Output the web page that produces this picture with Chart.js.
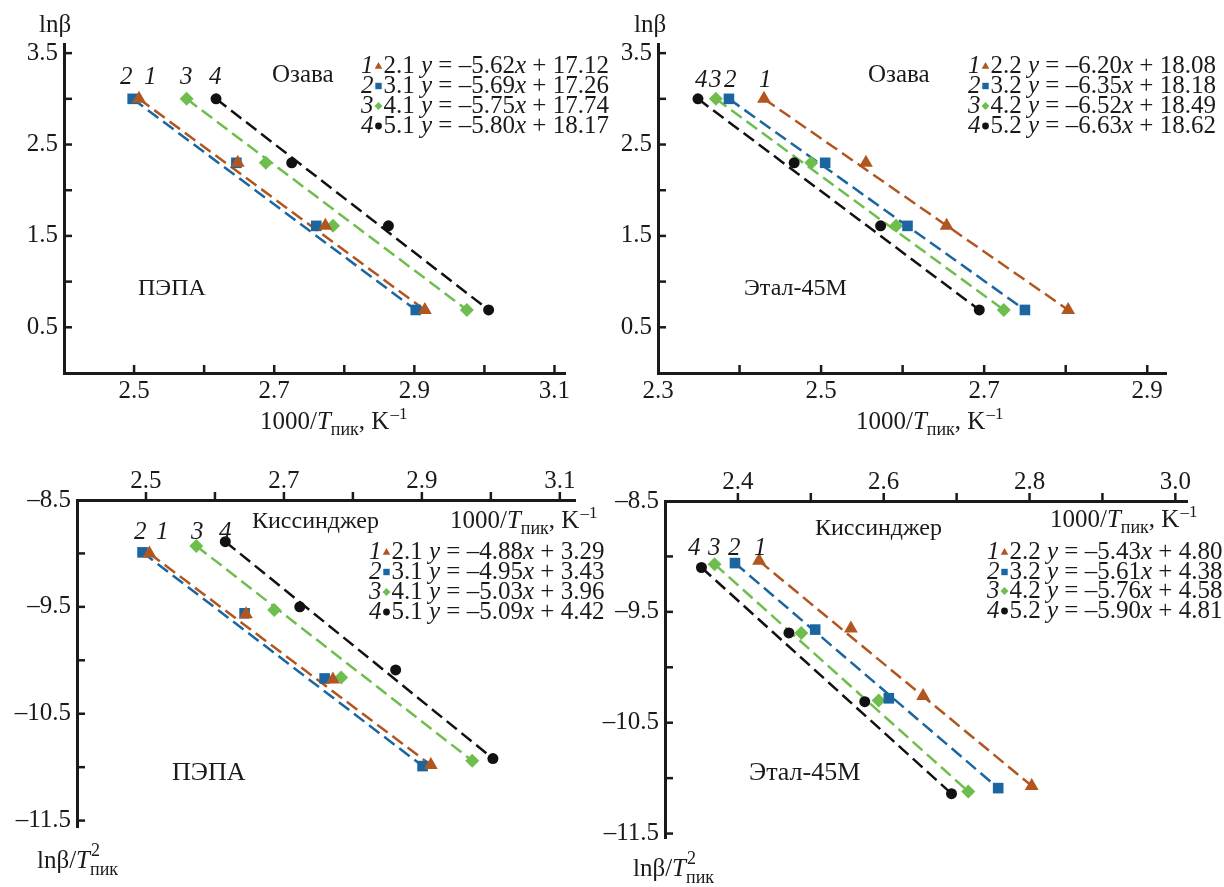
<!DOCTYPE html>
<html><head><meta charset="utf-8">
<script src="https://cdn.jsdelivr.net/npm/chart.js@4.4.1/dist/chart.umd.min.js"></script>
<style>
html,body{margin:0;padding:0;background:#fff;}
#wrap{position:relative;width:1224px;height:887px;overflow:hidden;background:#fff;}
canvas{position:absolute;left:0;top:0;}
</style>
</head><body><div id="wrap"></div>
<script>
// ---------- series meta ----------
const seriesNames  = ['1', '2', '3', '4'];
const seriesColors = ['#b1561f', '#1b66a0', '#6ebe4e', '#111111'];
const seriesStyles = ['triangle', 'rect', 'rectRot', 'circle'];

// ---------- Ozawa, PEPA ----------
const lnBeta = [3.00, 2.30, 1.61, 0.69];
const ozawaPepaX = [
  [2.507, 2.648, 2.773, 2.915],
  [2.498, 2.646, 2.760, 2.902],
  [2.575, 2.688, 2.784, 2.975],
  [2.617, 2.725, 2.863, 3.006]
];
const ozawaPepaCodes = ['2.1', '3.1', '4.1', '5.1'];
const ozawaPepaSlopes = [-5.62, -5.69, -5.75, -5.80];
const ozawaPepaIntercepts = [17.12, 17.26, 17.74, 18.17];

// ---------- Ozawa, Etal-45M ----------
const ozawaEtalX = [
  [2.430, 2.555, 2.654, 2.803],
  [2.387, 2.505, 2.606, 2.750],
  [2.371, 2.488, 2.592, 2.724],
  [2.349, 2.467, 2.573, 2.694]
];
const ozawaEtalCodes = ['2.2', '3.2', '4.2', '5.2'];
const ozawaEtalSlopes = [-6.20, -6.35, -6.52, -6.63];
const ozawaEtalIntercepts = [18.08, 18.18, 18.49, 18.62];

// ---------- Kissinger, PEPA ----------
const kisPepaX = [
  [2.505, 2.645, 2.771, 2.913],
  [2.495, 2.643, 2.759, 2.901],
  [2.573, 2.686, 2.783, 2.973],
  [2.615, 2.723, 2.862, 3.003]
];
const kisPepaY = [
  [-9.00, -9.57, -10.18, -10.98],
  [-8.99, -9.56, -10.17, -10.99],
  [-8.93, -9.53, -10.16, -10.94],
  [-8.89, -9.50, -10.09, -10.92]
];
const kisPepaCodes = ['2.1', '3.1', '4.1', '5.1'];
const kisPepaSlopes = [-4.88, -4.95, -5.03, -5.09];
const kisPepaIntercepts = [3.29, 3.43, 3.96, 4.42];

// ---------- Kissinger, Etal-45M ----------
const kisEtalX = [
  [2.429, 2.555, 2.654, 2.803],
  [2.396, 2.506, 2.607, 2.757],
  [2.368, 2.487, 2.593, 2.716],
  [2.350, 2.470, 2.574, 2.693]
];
const kisEtalY = [
  [-9.04, -9.65, -10.26, -11.07],
  [-9.06, -9.66, -10.28, -11.09],
  [-9.07, -9.69, -10.30, -11.12],
  [-9.10, -9.69, -10.31, -11.14]
];
const kisEtalCodes = ['2.2', '3.2', '4.2', '5.2'];
const kisEtalSlopes = [-5.43, -5.61, -5.76, -5.90];
const kisEtalIntercepts = [4.80, 4.38, 4.58, 4.81];

// ---------- tick labels ----------
const ozawaYTickLabels   = [0.5, 1.5, 2.5, 3.5];
const ozawaPepaXTickLabels = [2.5, 2.7, 2.9, 3.1];
const ozawaEtalXTickLabels = [2.3, 2.5, 2.7, 2.9];
const kisYTickLabels     = [-8.5, -9.5, -10.5, -11.5];
const kisPepaXTickLabels = [2.5, 2.7, 2.9, 3.1];
const kisEtalXTickLabels = [2.4, 2.6, 2.8, 3.0];

// ---------- helpers ----------
const FONT = '"Liberation Serif", "Times New Roman", serif';
const TXT = '#1a1a1a';
const AXIS = '#1a1a1a';
const XAXIS_H = 40;

function fmt(v) {
  const s = Math.abs(v).toFixed(1);
  return v < 0 ? '\u2013' + s : s;
}
function has(list, v) { return list.some(l => Math.abs(l - v) < 1e-6); }

function put(ctx, t, x, y, size, italic, dy) {
  ctx.font = (italic ? 'italic ' : '') + size + 'px ' + FONT;
  ctx.fillText(t, x, y + (dy || 0));
  return x + ctx.measureText(t).width;
}

function marker(ctx, style, color, x, y, r) {
  ctx.save();
  ctx.fillStyle = color;
  ctx.beginPath();
  if (style === 'triangle') {
    ctx.moveTo(x, y - r); ctx.lineTo(x + r * 0.95, y + r * 0.7); ctx.lineTo(x - r * 0.95, y + r * 0.7);
  } else if (style === 'rect') {
    ctx.rect(x - r * 0.8, y - r * 0.8, r * 1.6, r * 1.6);
  } else if (style === 'rectRot') {
    ctx.moveTo(x, y - r); ctx.lineTo(x + r, y); ctx.lineTo(x, y + r); ctx.lineTo(x - r, y);
  } else {
    ctx.arc(x, y, r * 0.85, 0, Math.PI * 2);
  }
  ctx.closePath();
  ctx.fill();
  ctx.restore();
}

function legend(ctx, x, baselines, codes, slopes, intercepts, fs) {
  for (let i = 0; i < 4; i++) {
    const y = baselines[i];
    let cx = put(ctx, seriesNames[i], x, y, fs, true);
    marker(ctx, seriesStyles[i], seriesColors[i], cx + 5, y - 7, 4);
    cx += 10;
    cx = put(ctx, codes[i] + ' ', cx, y, fs, false);
    cx = put(ctx, 'y', cx, y, fs, true);
    cx = put(ctx, ' = \u2013' + Math.abs(slopes[i]).toFixed(2), cx, y, fs, false);
    cx = put(ctx, 'x', cx, y, fs, true);
    put(ctx, ' + ' + intercepts[i].toFixed(2), cx, y, fs, false);
  }
}

function xTitle(ctx, x, y) {
  let cx = put(ctx, '1000/', x, y, 25, false);
  cx = put(ctx, 'T', cx, y, 25, true);
  cx = put(ctx, '\u043f\u0438\u043a', cx, y, 18, false, 6);
  cx = put(ctx, ', K', cx, y, 25, false);
  put(ctx, '\u20131', cx + 1, y, 17, false, -10);
}

function yTitleKis(ctx, x, y) {
  let cx = put(ctx, 'ln\u03b2/', x, y, 25, false);
  cx = put(ctx, 'T', cx, y, 25, true);
  put(ctx, '2', cx + 1, y, 18, false, -12);
  put(ctx, '\u043f\u0438\u043a', cx, y, 18, false, 7);
}

function makePanel(p) {
  const c = document.createElement('canvas');
  c.width = 1224; c.height = 887;
  document.getElementById('wrap').appendChild(c);
  const radii = [8, 7.5, 7, 5.5];
  const datasets = [];
  p.xs.forEach((xs, i) => {
    const ys = p.ys[i];
    const pts = xs.map((x, k) => ({ x: x, y: ys[k] }));
    datasets.push({
      type: 'line', data: [pts[0], pts[pts.length - 1]],
      borderColor: seriesColors[i], borderWidth: 2.5, borderDash: [13, 6],
      pointRadius: 0, fill: false, order: 2
    });
    datasets.push({
      type: 'scatter', data: pts, pointStyle: seriesStyles[i], pointRadius: radii[i],
      backgroundColor: seriesColors[i], borderColor: seriesColors[i], borderWidth: 0, order: 1
    });
  });
  const tickFont = { family: FONT, size: 25 };
  const yW = p.area.l - 2;
  const pad = {
    left: 2,
    right: 1224 - p.area.r,
    top: p.xPos === 'top' ? p.area.t - XAXIS_H : p.area.t,
    bottom: p.xPos === 'bottom' ? 887 - p.area.b - XAXIS_H : 887 - p.area.b
  };
  const deco = {
    id: 'deco',
    afterDraw(chart) {
      const ctx = chart.ctx;
      const xs = chart.scales.x, ys = chart.scales.y;
      const a = chart.chartArea;
      ctx.save();
      ctx.strokeStyle = AXIS;
      ctx.lineWidth = 2.5;
      xs.ticks.forEach(t => {
        if (Math.abs(t.value - xs.min) < 1e-6) return;
        const px = xs.getPixelForValue(t.value);
        ctx.beginPath();
        if (p.xPos === 'bottom') { ctx.moveTo(px, a.bottom); ctx.lineTo(px, a.bottom - 8); }
        else { ctx.moveTo(px, a.top); ctx.lineTo(px, a.top - 8); }
        ctx.stroke();
      });
      ys.ticks.forEach(t => {
        if (p.xPos === 'bottom' && Math.abs(t.value - ys.min) < 1e-6) return;
        if (p.xPos === 'top' && Math.abs(t.value - ys.max) < 1e-6) return;
        const py = ys.getPixelForValue(t.value);
        ctx.beginPath(); ctx.moveTo(a.left, py); ctx.lineTo(a.left + 8, py); ctx.stroke();
      });
      ctx.fillStyle = TXT;
      ctx.textBaseline = 'alphabetic';
      ctx.textAlign = 'left';
      p.texts(ctx);
      ctx.restore();
    }
  };
  new Chart(c, {
    type: 'scatter',
    data: { datasets: datasets },
    options: {
      responsive: false, animation: false, devicePixelRatio: 1, events: [],
      layout: { autoPadding: false, padding: pad },
      plugins: { legend: { display: false }, tooltip: { enabled: false } },
      scales: {
        x: {
          type: 'linear', position: p.xPos, min: p.xMin, max: p.xMax,
          afterFit: s => { s.height = XAXIS_H; },
          grid: { display: false, drawTicks: false },
          border: { display: true, color: AXIS, width: 3 },
          ticks: {
            stepSize: 0.1, autoSkip: false, includeBounds: false, maxRotation: 0, minRotation: 0,
            padding: p.xPos === 'bottom' ? 3 : 4, color: TXT, font: tickFont,
            callback: v => has(p.xLabels, v) ? fmt(v) : ''
          }
        },
        y: {
          type: 'linear', position: 'left', min: p.yMin, max: p.yMax,
          afterFit: s => { s.width = yW; },
          grid: { display: false, drawTicks: false },
          border: { display: true, color: AXIS, width: 3 },
          ticks: {
            stepSize: 0.5, autoSkip: false, includeBounds: false, padding: 6, color: TXT, font: tickFont,
            callback: v => has(p.yLabels, v) ? fmt(v) : ''
          }
        }
      }
    },
    plugins: [deco]
  });
}

function nums(ctx, list, y) {
  list.forEach(n => put(ctx, n[0], n[1], y, 25, true));
}

// Panel 1: Ozawa, PEPA
makePanel({
  area: { l: 64, t: 44, r: 565, b: 373 }, xPos: 'bottom',
  xMin: 2.4, xMax: 3.115, yMin: 0, yMax: 3.6,
  xLabels: ozawaPepaXTickLabels, yLabels: ozawaYTickLabels,
  xs: ozawaPepaX, ys: [lnBeta, lnBeta, lnBeta, lnBeta],
  texts: ctx => {
    put(ctx, 'ln\u03b2', 39, 32, 25, false);
    put(ctx, '\u041e\u0437\u0430\u0432\u0430', 272, 82, 25, false);
    put(ctx, '\u041f\u042d\u041f\u0410', 138, 295, 24, false);
    nums(ctx, [['2', 120], ['1', 144], ['3', 180], ['4', 209]], 84);
    xTitle(ctx, 260, 429);
    legend(ctx, 361, [73, 93, 113, 133], ozawaPepaCodes, ozawaPepaSlopes, ozawaPepaIntercepts, 25);
  }
});

// Panel 2: Ozawa, Etal-45M
makePanel({
  area: { l: 658, t: 44, r: 1166, b: 373 }, xPos: 'bottom',
  xMin: 2.3, xMax: 2.923, yMin: 0, yMax: 3.6,
  xLabels: ozawaEtalXTickLabels, yLabels: ozawaYTickLabels,
  xs: ozawaEtalX, ys: [lnBeta, lnBeta, lnBeta, lnBeta],
  texts: ctx => {
    put(ctx, 'ln\u03b2', 634, 32, 25, false);
    put(ctx, '\u041e\u0437\u0430\u0432\u0430', 868, 82, 25, false);
    put(ctx, '\u042d\u0442\u0430\u043b-45\u041c', 744, 295, 24, false);
    nums(ctx, [['4', 695], ['3', 709], ['2', 724], ['1', 759]], 87);
    xTitle(ctx, 856, 429);
    legend(ctx, 968, [73, 93, 113, 133], ozawaEtalCodes, ozawaEtalSlopes, ozawaEtalIntercepts, 25);
  }
});

// Panel 3: Kissinger, PEPA
makePanel({
  area: { l: 77, t: 500, r: 575, b: 827 }, xPos: 'top',
  xMin: 2.4, xMax: 3.122, yMin: -11.56, yMax: -8.5,
  xLabels: kisPepaXTickLabels, yLabels: kisYTickLabels,
  xs: kisPepaX, ys: kisPepaY,
  texts: ctx => {
    put(ctx, '\u041a\u0438\u0441\u0441\u0438\u043d\u0434\u0436\u0435\u0440', 252, 528, 24, false);
    xTitle(ctx, 450, 528);
    legend(ctx, 369, [559, 579, 599, 619], kisPepaCodes, kisPepaSlopes, kisPepaIntercepts, 25);
    put(ctx, '\u041f\u042d\u041f\u0410', 172, 780, 26, false);
    nums(ctx, [['2', 134], ['1', 156], ['3', 191], ['4', 219]], 539);
    yTitleKis(ctx, 37, 868);
  }
});

// Panel 4: Kissinger, Etal-45M
makePanel({
  area: { l: 665, t: 501, r: 1187, b: 838 }, xPos: 'top',
  xMin: 2.3, xMax: 3.016, yMin: -11.54, yMax: -8.5,
  xLabels: kisEtalXTickLabels, yLabels: kisYTickLabels,
  xs: kisEtalX, ys: kisEtalY,
  texts: ctx => {
    put(ctx, '\u041a\u0438\u0441\u0441\u0438\u043d\u0434\u0436\u0435\u0440', 815, 535, 24, false);
    xTitle(ctx, 1050, 527);
    legend(ctx, 987, [559, 579, 598, 618], kisEtalCodes, kisEtalSlopes, kisEtalIntercepts, 25);
    put(ctx, '\u042d\u0442\u0430\u043b-45\u041c', 749, 780, 26, false);
    nums(ctx, [['4', 688], ['3', 708], ['2', 728], ['1', 754]], 555);
    yTitleKis(ctx, 633, 876);
  }
});
</script>
</body></html>
